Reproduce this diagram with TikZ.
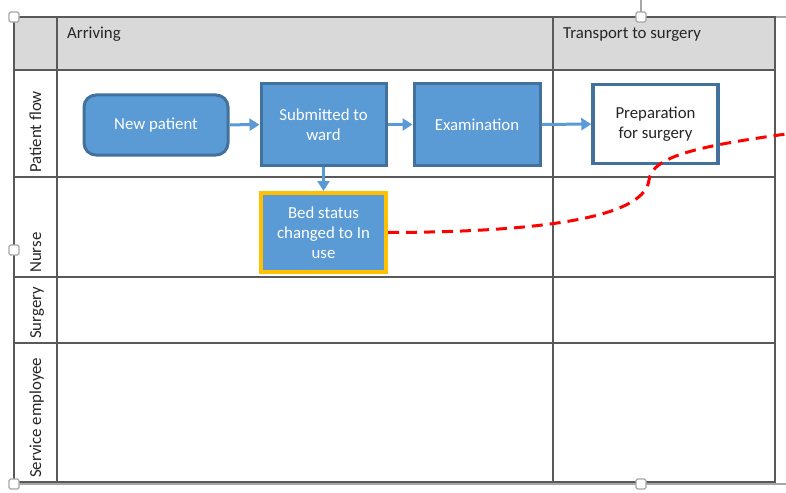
\documentclass[tikz,border=0pt]{standalone}
\usepackage{fontspec}
\setmainfont{Carlito}
\usetikzlibrary{arrows.meta}
\definecolor{boxblue}{HTML}{5B9BD5}
\definecolor{boxedge}{HTML}{41719C}
\definecolor{bedgold}{HTML}{FFC000}
\definecolor{headgray}{HTML}{D9D9D9}
\definecolor{gridgray}{HTML}{595959}
\definecolor{handlegray}{HTML}{A6A6A6}
\definecolor{labeltext}{HTML}{262626}

\begin{document}
\begin{tikzpicture}[x=1pt, y=-1pt, font=\fontsize{16.8}{20}\selectfont,
  task/.style={draw=boxedge, fill=boxblue, line width=3pt, text=white, align=center, inner sep=0pt},
  flow/.style={draw=boxblue, line width=3pt, -{Triangle[length=10pt,width=12pt]}},
  lanelabel/.style={rotate=90, anchor=base west, inner sep=0pt, text=labeltext},
  handle/.style={draw=handlegray, fill=white, line width=1.2pt, minimum size=10pt, inner sep=0pt, rounded corners=1.5pt}
]
\useasboundingbox (0,0) rectangle (786,492);
% header and grid
\fill[headgray] (14,17) rectangle (775,70);
\draw[handlegray, line width=1.2pt] (14,17) -- (786,17);
\draw[handlegray, line width=1.2pt] (14,484) -- (786,484);
\draw[gridgray, line width=2pt] (14,17) rectangle (775,482);
\draw[gridgray, line width=1.8pt] (14,70) -- (775,70);
\draw[gridgray, line width=1.8pt] (14,177) -- (775,177);
\draw[gridgray, line width=1.8pt] (14,277) -- (775,277);
\draw[gridgray, line width=1.8pt] (14,343) -- (775,343);
\draw[gridgray, line width=1.8pt] (57,17) -- (57,482);
\draw[gridgray, line width=1.8pt] (553,17) -- (553,482);

\node[anchor=base west, inner sep=0pt, text=labeltext] (arriving) at (67,39) {Arriving};
\node[anchor=base west, inner sep=0pt, text=labeltext] (transport) at (563,39) {Transport to surgery};

\node[lanelabel] (patientlane) at (41,173) {Patient flow};
\node[lanelabel] (nurselane) at (41,273) {Nurse};
\node[lanelabel] (surgerylane) at (41,339) {Surgery};
\node[lanelabel] (servicelane) at (41,478) {Service employee};

% tasks
\node[task, rounded corners=12pt, minimum width=144pt, minimum height=60pt] (new) at (156,125) {New patient};
\node[task, minimum width=125pt, minimum height=81pt] (ward) at (323.5,124.5) {Submitted to\\ward};
\node[task, minimum width=126pt, minimum height=81pt] (exam) at (477,124.5) {Examination};
\node[task, fill=white, text=labeltext, line width=3.5pt, minimum width=125pt, minimum height=79pt] (prep) at (655.5,124) {Preparation\\for surgery};
\node[task, draw=bedgold, line width=4pt, minimum width=125pt, minimum height=79pt] (bed) at (323.5,232.5) {Bed status\\changed to In\\use};

\draw[flow] (new) -- (ward);
\draw[flow] (ward) -- (exam);
\draw[flow] (exam) -- (prep);
\draw[flow] (ward) -- (bed);

\coordinate (cut) at (786,134);
\draw[red, line width=3pt, dash pattern=on 11pt off 7pt] (bed.east) .. controls (560,232) and (645,214) .. (649,180) .. controls (652,156) and (700,146) .. (cut);

% selection handles
\draw[handlegray, line width=1.2pt] (641,0) -- (641,17);
\node[handle] (h1) at (14,17) {};
\node[handle] (h2) at (641,17) {};
\node[handle] (h3) at (14,250) {};
\node[handle] (h4) at (14,484) {};
\node[handle] (h5) at (641,484) {};
\end{tikzpicture}
\end{document}
